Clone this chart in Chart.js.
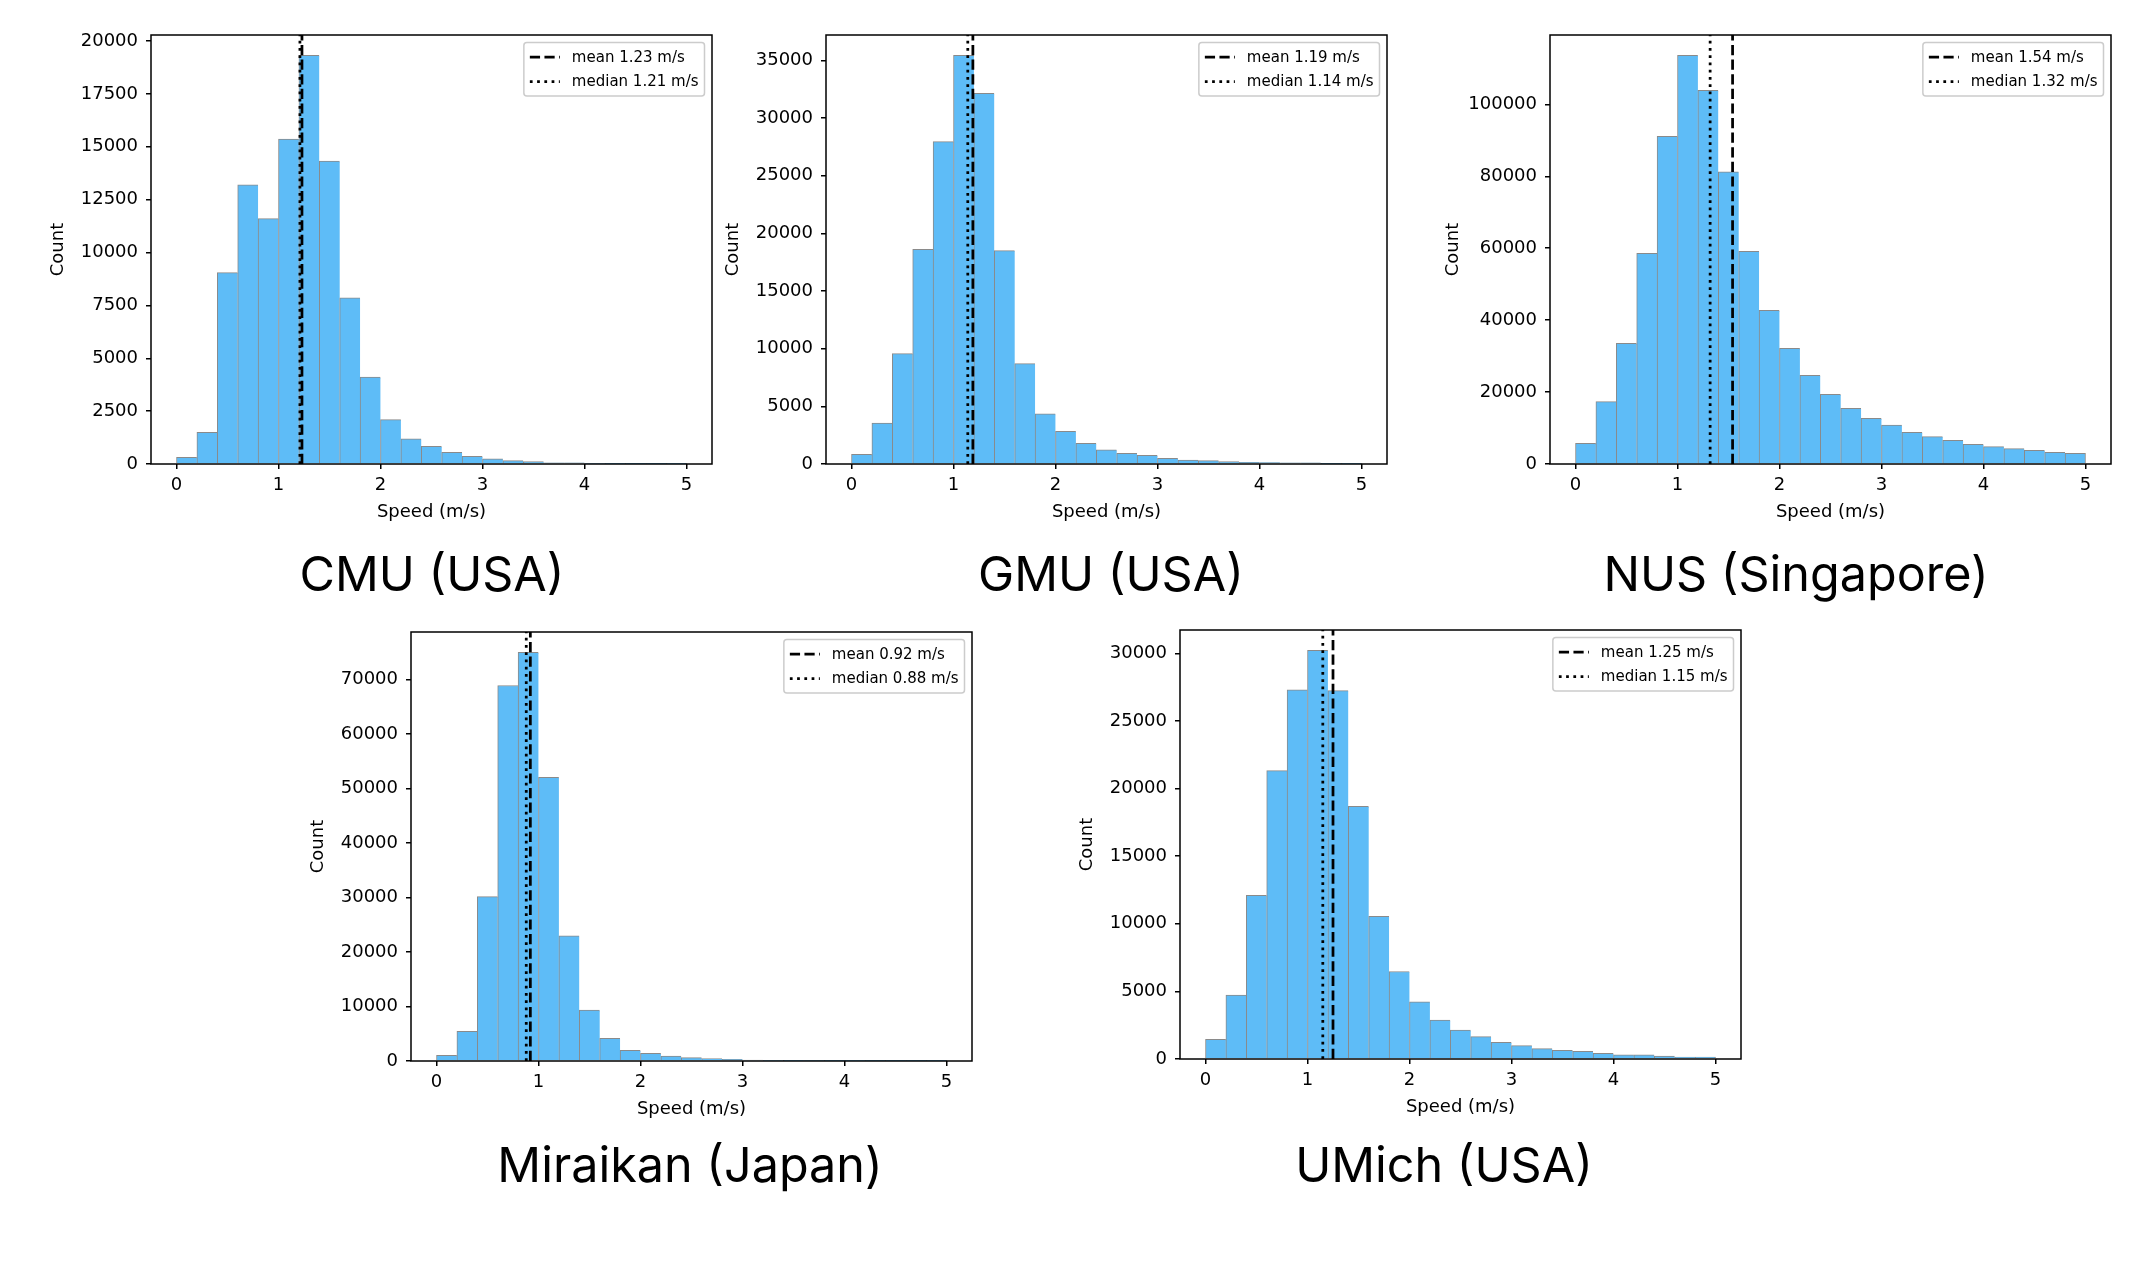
<!DOCTYPE html>
<html>
<head>
<meta charset="utf-8">
<title>Walking speed histograms</title>
<script src="https://cdn.jsdelivr.net/npm/chart.js@4.4.1/dist/chart.umd.min.js"></script>
<style>
  html, body { margin: 0; padding: 0; background: #fff; }
  #page { position: relative; width: 2134px; height: 1268px; overflow: hidden; background: #fff; }
  .panel { position: absolute; }
  .site-title {
    position: absolute;
    font-family: Inter, "Noto Sans", sans-serif;
    font-size: 48.5px;
    line-height: 48.5px;
    color: #000;
    white-space: nowrap;
    transform: translateX(-50%);
  }
</style>
</head>
<body>
<div id="page"></div>
<script>
// ---- data ----
const siteNames = ['CMU (USA)', 'GMU (USA)', 'NUS (Singapore)', 'Miraikan (Japan)', 'UMich (USA)'];

// histogram bin centres, bin width 0.2 m/s
const speedBins = [0.1, 0.3, 0.5, 0.7, 0.9, 1.1, 1.3, 1.5, 1.7, 1.9, 2.1, 2.3, 2.5,
                   2.7, 2.9, 3.1, 3.3, 3.5, 3.7, 3.9, 4.1, 4.3, 4.5, 4.7, 4.9];
const binWidth = 0.2;

const cmuCounts = [320, 1500, 9050, 13200, 11600, 15370, 19320, 14320, 7860, 4110, 2100, 1190, 840,
                   550, 360, 240, 160, 110, 60, 60, 20, 10, 5, 5, 3];
const gmuCounts = [840, 3540, 9570, 18610, 27950, 35430, 32150, 18500, 8700, 4350, 2840, 1800, 1220,
                   930, 750, 490, 350, 290, 200, 150, 120, 110, 100, 20, 10];
const nusCounts = [5750, 17330, 33550, 58570, 91100, 113620, 103890, 81280, 59130, 42720, 32160, 24650, 19370,
                   15480, 12700, 10840, 8800, 7600, 6580, 5470, 4820, 4260, 3800, 3240, 2970];
const miraikanCounts = [1040, 5460, 30150, 68900, 74970, 52070, 22960, 9330, 4180, 1960, 1410, 920, 610,
                        430, 300, 150, 100, 60, 40, 30, 20, 15, 10, 8, 5];
const umichCounts = [1460, 4720, 12110, 21330, 27300, 30220, 27250, 18680, 10550, 6470, 4230, 2870, 2130,
                     1660, 1240, 990, 770, 640, 570, 420, 300, 300, 220, 150, 150];

const meanSpeeds = [1.23, 1.19, 1.54, 0.92, 1.25];
const medianSpeeds = [1.21, 1.14, 1.32, 0.88, 1.15];

const xTicks = [0, 1, 2, 3, 4, 5];
const cmuYTicks = [0, 2500, 5000, 7500, 10000, 12500, 15000, 17500, 20000];
const gmuYTicks = [0, 5000, 10000, 15000, 20000, 25000, 30000, 35000];
const nusYTicks = [0, 20000, 40000, 60000, 80000, 100000];
const miraikanYTicks = [0, 10000, 20000, 30000, 40000, 50000, 60000, 70000];
const umichYTicks = [0, 5000, 10000, 15000, 20000, 25000, 30000];

const xLabel = 'Speed (m/s)';
const yLabel = 'Count';

// ---- layout (pixel boxes of each plot area, not data) ----
const PLOT_W = 561, PLOT_H = 429, PAD_TOP = 30, PAD_RIGHT = 20, X_AXIS_H = 63;
const panels = [
  { counts: cmuCounts,      yTicks: cmuYTicks,      left: 151,  top: 35,  yAxisW: 107, titleX: 432,  titleBase: 592 },
  { counts: gmuCounts,      yTicks: gmuYTicks,      left: 826,  top: 35,  yAxisW: 107, titleX: 1111, titleBase: 592 },
  { counts: nusCounts,      yTicks: nusYTicks,      left: 1550, top: 35,  yAxisW: 111, titleX: 1796, titleBase: 592 },
  { counts: miraikanCounts, yTicks: miraikanYTicks, left: 411,  top: 632, yAxisW: 107, titleX: 690,  titleBase: 1183 },
  { counts: umichCounts,    yTicks: umichYTicks,    left: 1180, top: 630, yAxisW: 107, titleX: 1444, titleBase: 1183 }
];

const AXIS_FONT = { family: "'DejaVu Sans', sans-serif", size: 18 };
const BAR_FILL = '#5ebcf7';
const BAR_EDGE = '#8a8a8a';

// frame + matplotlib-like legend box
const frameAndLegend = {
  id: 'frameAndLegend',
  afterDatasetsDraw(chart) {
    const { ctx, chartArea } = chart;
    ctx.save();
    ctx.strokeStyle = '#000';
    ctx.lineWidth = 1.5;
    ctx.strokeRect(chartArea.left, chartArea.top, chartArea.right - chartArea.left, chartArea.bottom - chartArea.top);

    const fs = 15;
    const items = chart.data.datasets.filter(d => d.type === 'line');
    ctx.font = fs + "px 'DejaVu Sans', sans-serif";
    const textW = Math.max(...items.map(d => ctx.measureText(d.label).width));
    const pad = 0.4 * fs, handleLen = 2 * fs, handlePad = 0.8 * fs, rowH = 17, gap = 0.5 * fs;
    const w = pad * 2 + handleLen + handlePad + textW;
    const h = pad * 2 + rowH * items.length + gap * (items.length - 1);
    const x = chartArea.right - 0.5 * fs - w;
    const y = chartArea.top + 0.5 * fs;
    ctx.beginPath();
    ctx.roundRect(x, y, w, h, 3);
    ctx.fillStyle = 'rgba(255,255,255,0.8)';
    ctx.fill();
    ctx.strokeStyle = '#cccccc';
    ctx.lineWidth = 1.5;
    ctx.stroke();
    items.forEach((d, i) => {
      const cy = y + pad + rowH / 2 + i * (rowH + gap);
      ctx.setLineDash(d.borderDash || []);
      ctx.strokeStyle = d.borderColor;
      ctx.lineWidth = d.borderWidth;
      ctx.beginPath();
      ctx.moveTo(x + pad, cy);
      ctx.lineTo(x + pad + handleLen, cy);
      ctx.stroke();
      ctx.setLineDash([]);
      ctx.fillStyle = '#000';
      ctx.textBaseline = 'middle';
      ctx.textAlign = 'left';
      ctx.fillText(d.label, x + pad + handleLen + handlePad, cy + 1);
    });
    ctx.restore();
  }
};

const page = document.getElementById('page');

panels.forEach((p, k) => {
  const cw = p.yAxisW + PLOT_W + PAD_RIGHT;
  const chH = PAD_TOP + PLOT_H + X_AXIS_H;
  const canvas = document.createElement('canvas');
  canvas.className = 'panel';
  canvas.width = cw;
  canvas.height = chH;
  canvas.style.left = (p.left - p.yAxisW) + 'px';
  canvas.style.top = (p.top - PAD_TOP) + 'px';
  canvas.style.width = cw + 'px';
  canvas.style.height = chH + 'px';
  page.appendChild(canvas);

  const title = document.createElement('div');
  title.className = 'site-title';
  title.textContent = siteNames[k];
  title.style.left = p.titleX + 'px';
  title.style.top = (p.titleBase - 42) + 'px';
  page.appendChild(title);

  const yMax = Math.max(...p.counts) * 1.05;
  const lastBin = p.counts.length - 1;

  new Chart(canvas, {
    type: 'bar',
    data: {
      datasets: [
        {
          type: 'line',
          label: 'mean ' + meanSpeeds[k].toFixed(2) + ' m/s',
          data: [{ x: meanSpeeds[k], y: 0 }, { x: meanSpeeds[k], y: yMax }],
          borderColor: '#000',
          borderWidth: 2.75,
          borderDash: [10.2, 4.4],
          pointRadius: 0,
          fill: false,
          order: 1
        },
        {
          type: 'line',
          label: 'median ' + medianSpeeds[k].toFixed(2) + ' m/s',
          data: [{ x: medianSpeeds[k], y: 0 }, { x: medianSpeeds[k], y: yMax }],
          borderColor: '#000',
          borderWidth: 2.75,
          borderDash: [2.75, 4.5],
          pointRadius: 0,
          fill: false,
          order: 1
        },
        {
          type: 'bar',
          label: 'count',
          data: speedBins.map((c, i) => ({ x: c, y: p.counts[i] })),
          backgroundColor: BAR_FILL,
          borderColor: BAR_EDGE,
          borderWidth: (ctx) => ({ top: 1, left: 1, right: ctx.dataIndex === lastBin ? 1 : 0, bottom: 0 }),
          borderSkipped: false,
          barPercentage: 1,
          categoryPercentage: 1,
          order: 2
        }
      ]
    },
    options: {
      responsive: false,
      animation: false,
      devicePixelRatio: 1,
      layout: { padding: { top: PAD_TOP, right: PAD_RIGHT, left: 0, bottom: 0 } },
      plugins: { legend: { display: false }, tooltip: { enabled: false } },
      scales: {
        x: {
          type: 'linear',
          min: 0 - binWidth * 25 * 0.05,
          max: 5 + binWidth * 25 * 0.05,
          offset: false,
          afterBuildTicks: (scale) => { scale.ticks = xTicks.map(v => ({ value: v })); },
          afterFit: (scale) => { scale.height = X_AXIS_H; },
          ticks: { color: '#000', font: AXIS_FONT, padding: 6, autoSkip: false, maxRotation: 0,
                   callback: (v) => String(v) },
          grid: { display: true, drawOnChartArea: false, drawTicks: true, tickLength: 5, color: '#000', lineWidth: 1.5, offset: false },
          border: { display: false },
          title: { display: true, text: xLabel, color: '#000', font: AXIS_FONT, padding: { top: 4, bottom: 4 } }
        },
        y: {
          type: 'linear',
          min: 0,
          max: yMax,
          afterBuildTicks: (scale) => { scale.ticks = p.yTicks.map(v => ({ value: v })); },
          afterFit: (scale) => { scale.width = p.yAxisW; },
          ticks: { color: '#000', font: AXIS_FONT, padding: 8, autoSkip: false,
                   callback: (v) => String(v) },
          grid: { display: true, drawOnChartArea: false, drawTicks: true, tickLength: 5, color: '#000', lineWidth: 1.5 },
          border: { display: false },
          title: { display: true, text: yLabel, color: '#000', font: AXIS_FONT, padding: { top: 4, bottom: 4 } }
        }
      }
    },
    plugins: [frameAndLegend]
  });
});
</script>
</body>
</html>
